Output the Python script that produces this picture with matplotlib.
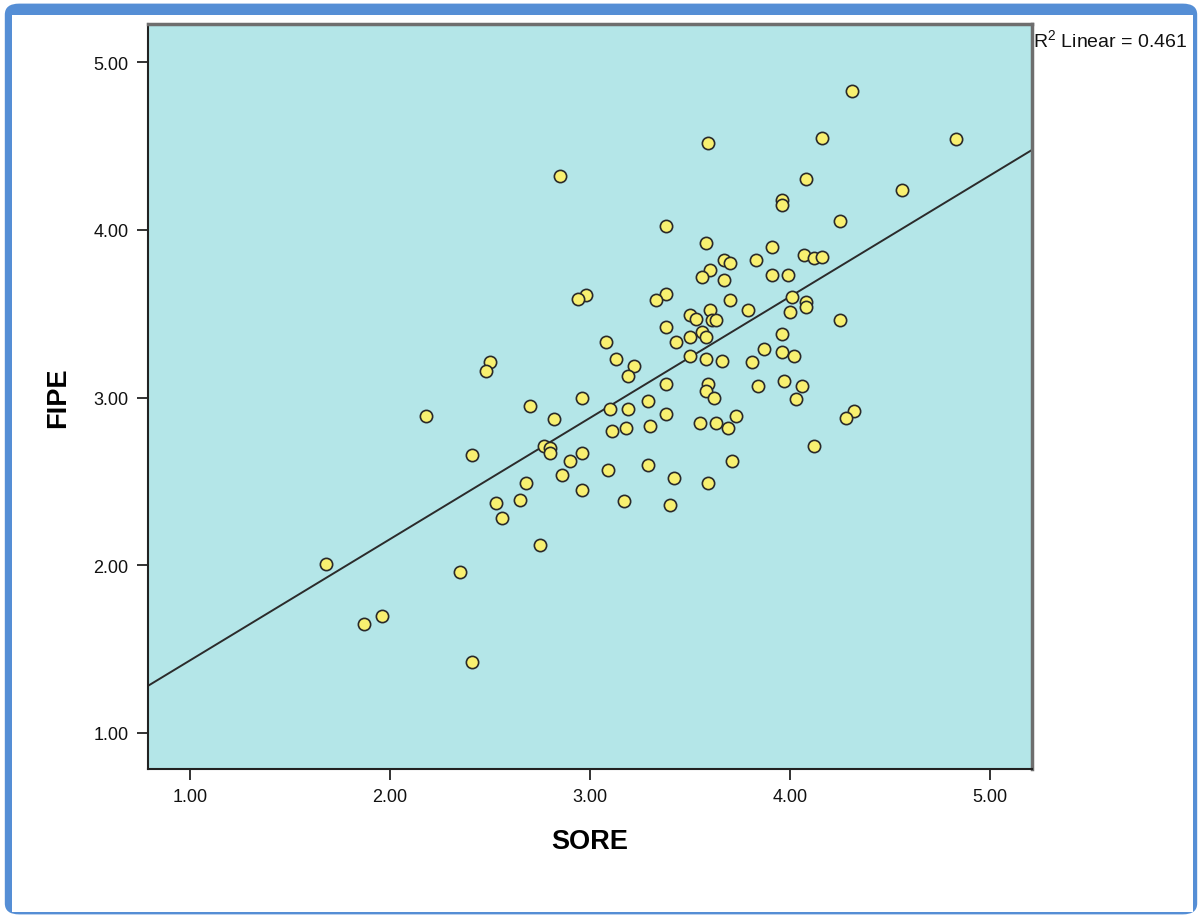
import numpy as np
import matplotlib
matplotlib.use("Agg")
import matplotlib.pyplot as plt
from matplotlib.patches import FancyBboxPatch, Rectangle

# ---- data ----
sore = [4.31, 4.16, 4.83, 3.59, 2.85, 4.08, 4.56, 3.96, 3.96, 3.38,
        4.25, 3.58, 3.91, 4.07, 4.12, 4.16, 3.67, 3.70, 3.83, 3.60,
        3.56, 3.67, 3.91, 3.99, 2.98, 2.94, 3.38, 3.33, 3.70, 4.01,
        4.08, 4.08, 3.50, 3.53, 3.60, 3.61, 3.63, 3.79, 4.00, 4.25,
        3.38, 3.56, 3.58, 3.50, 3.43, 3.08, 3.96, 3.87, 3.96, 4.02,
        3.13, 3.22, 3.19, 3.50, 3.58, 3.66, 3.81, 3.38, 3.59, 3.58,
        3.62, 3.84, 3.97, 4.06, 4.03, 2.96, 3.29, 3.10, 3.19, 3.38,
        3.11, 3.18, 3.30, 3.55, 3.63, 3.69, 3.73, 4.32, 4.28, 4.12,
        2.96, 3.09, 3.29, 3.42, 3.71, 3.59, 2.96, 3.17, 3.40, 2.50,
        2.48, 2.18, 2.70, 2.82, 2.77, 2.80, 2.80, 2.90, 2.86, 2.41,
        2.68, 2.65, 2.53, 2.56, 2.75, 1.68, 2.35, 1.87, 1.96, 2.41]
fipe = [4.83, 4.55, 4.54, 4.52, 4.32, 4.30, 4.24, 4.18, 4.15, 4.02,
        4.05, 3.92, 3.90, 3.85, 3.83, 3.84, 3.82, 3.80, 3.82, 3.76,
        3.72, 3.70, 3.73, 3.73, 3.61, 3.59, 3.62, 3.58, 3.58, 3.60,
        3.57, 3.54, 3.49, 3.47, 3.52, 3.46, 3.46, 3.52, 3.51, 3.46,
        3.42, 3.39, 3.36, 3.36, 3.33, 3.33, 3.38, 3.29, 3.27, 3.25,
        3.23, 3.19, 3.13, 3.25, 3.23, 3.22, 3.21, 3.08, 3.08, 3.04,
        3.00, 3.07, 3.10, 3.07, 2.99, 3.00, 2.98, 2.93, 2.93, 2.90,
        2.80, 2.82, 2.83, 2.85, 2.85, 2.82, 2.89, 2.92, 2.88, 2.71,
        2.67, 2.57, 2.60, 2.52, 2.62, 2.49, 2.45, 2.38, 2.36, 3.21,
        3.16, 2.89, 2.95, 2.87, 2.71, 2.70, 2.67, 2.62, 2.54, 2.66,
        2.49, 2.39, 2.37, 2.28, 2.12, 2.01, 1.96, 1.65, 1.70, 1.42]
ticks = [1.0, 2.0, 3.0, 4.0, 5.0]
tick_labels = ["1.00", "2.00", "3.00", "4.00", "5.00"]
r2_label = "R$^2$ Linear = 0.461"

plt.rcParams['font.family'] = ['Liberation Sans', 'DejaVu Sans']
plt.rcParams['mathtext.fontset'] = 'custom'
plt.rcParams['mathtext.rm'] = 'Liberation Sans'

W, H = 1202, 920
fig = plt.figure(figsize=(W / 100, H / 100), dpi=100, facecolor='white')

# blue outer frame with rounded corners and white inner area
fig.patches.append(FancyBboxPatch((0.004, 0.005), 0.992, 0.99,
                                  boxstyle="round,pad=0,rounding_size=0.012",
                                  transform=fig.transFigure, facecolor='#558ED5',
                                  edgecolor='none', zorder=0))
fig.patches.append(Rectangle((12 / W, 1 - 913 / H), (1193 - 12) / W, (913 - 16) / H,
                             transform=fig.transFigure, facecolor='white',
                             edgecolor='none', zorder=1))

ax = fig.add_axes([148 / W, 1 - 770 / H, (1032 - 148) / W, (770 - 25) / H])
ax.set_zorder(2)
ax.set_facecolor('#B4E6E8')

x = np.array(sore)
y = np.array(fipe)
ax.set_xlim(0.79, 5.21)
ax.set_ylim(0.785, 5.227)

slope, intercept = np.polyfit(x, y, 1)
xl = np.array(ax.get_xlim())
ax.plot(xl, intercept + slope * xl, color='#2b2b2b', lw=1.4, zorder=2)

ax.scatter(x, y, s=78, facecolor='#F8F070', edgecolor='#2a2a2a',
           linewidths=1.2, zorder=3)

ax.set_xticks(ticks)
ax.set_xticklabels(tick_labels)
ax.set_yticks(ticks)
ax.set_yticklabels(tick_labels)
ax.tick_params(direction='out', length=8, width=1.3, color='#222222',
               labelsize=13, labelcolor='#111111', pad=6)

for side in ['left', 'bottom']:
    ax.spines[side].set_color('#222222')
    ax.spines[side].set_linewidth(1.5)
for side in ['top', 'right']:
    ax.spines[side].set_color('#6e6e6e')
    ax.spines[side].set_linewidth(2.5)

ax.set_xlabel("SORE", fontsize=19.5, fontweight='bold', labelpad=16)
ax.set_ylabel("FIPE", fontsize=19.5, fontweight='bold', labelpad=16)

fig.text(1033 / W, 1 - 41 / H, r2_label, fontsize=14, ha='left', va='center',
         color='#111111')

fig.savefig("out.png", dpi=100, facecolor=fig.get_facecolor())
